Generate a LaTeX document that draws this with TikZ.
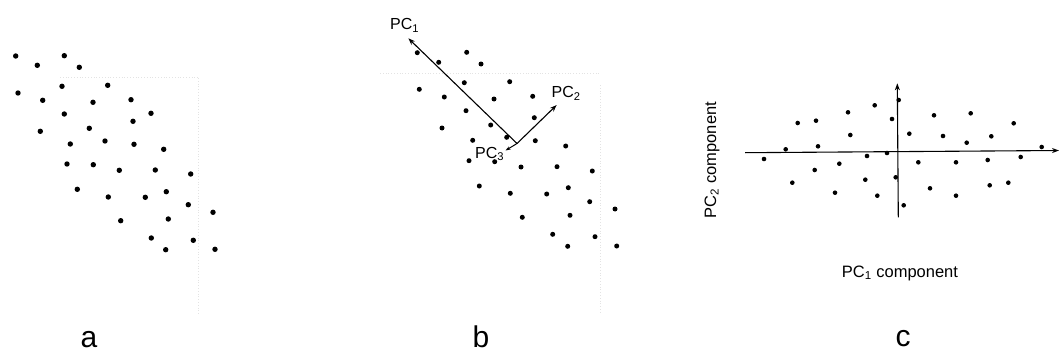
\documentclass[tikz,border=0pt]{standalone}
\usepackage{fontspec}
\setmainfont{Liberation Sans}
\usetikzlibrary{arrows.meta}
\begin{document}
\begin{tikzpicture}[x=1pt,y=-1pt,
  dotmark/.style={fill=black},
  axis/.style={line width=1.1pt,-{Stealth[length=7pt,width=5pt]}},
  faint/.style={gray!22,line width=0.5pt,dash pattern=on 0.8pt off 2pt},
  pclabel/.style={inner sep=0pt,anchor=base west,font=\fontsize{16}{16}\selectfont},
  complabel/.style={inner sep=0pt,font=\fontsize{16.5}{16.5}\selectfont},
  panellabel/.style={inner sep=0pt,anchor=base,font=\fontsize{30}{30}\selectfont}]
\useasboundingbox (0,0) rectangle (1059,353);
% faint scan lines
\draw[faint] (198,78) -- (198,315);
\draw[faint] (60,77) -- (198,77);
\draw[faint] (600,85) -- (600,313);
\draw[faint] (380,73) -- (600,73);
% panel a dots
\foreach \x/\y in {15.7/56,64.3/55.7,37.3/65.3,79.3/67.3,62/86.3,107.7/85.3,18/93,42.7/100.3,93/102.3,131/99.7,64.3/114,151/113.3,133/121.3,40.3/131.3,89.3/128.3,70.3/144,105/141,134/144.3,163.7/149.3,67/164,93.3/164.7,119.3/170.3,155.3/170,190.7/174,77.3/189.3,108.3/197,145.3/197.3,166.3/191.7,188.3/204.7,213/212.3,120.7/220.7,168.3/219,151.3/238,193.3/240.3,165.7/249.7,215/249.3}
  \fill[dotmark] (\x,\y) circle (2.7pt);
% panel b dots
\foreach \x/\y in {417.3/52.7,466.7/52.3,438.7/62.3,481/64,419.3/89.3,464.3/82.7,509.7/81.7,444.3/97,494/99,532.7/96.3,466/110.7,534.3/117.7,442/128,490.7/125,506.7/137.3,472.7/140.3,535.3/140.7,565.7/146,469/160.7,494.7/161.7,521/167,557/166.7,592.3/171,479.3/186,510.3/193.3,546.7/194,568.3/187.7,589.7/201.7,615/209,522.3/217.3,570/215.3,552.7/234.3,595/236.7,567.7/246.3,616.7/246}
  \fill[dotmark] (\x,\y) circle (2.5pt);
% panel b axes
\coordinate (O) at (517,143.5);
\coordinate (pc1tip) at (408.3,38.3);
\coordinate (pc2tip) at (556.7,105);
\coordinate (pc3tip) at (505.5,150.5);
\draw[axis] (O) -- (pc1tip);
\draw[axis] (O) -- (pc2tip);
\draw[line width=1pt,-{Stealth[length=5pt,width=3.5pt]}] (O) -- (pc3tip);
\node[pclabel] (pc1) at (390,29.5) {PC\textsubscript{1}};
\node[pclabel] (pc2) at (551.5,97.5) {PC\textsubscript{2}};
\node[pclabel] (pc3) at (475,158) {PC\textsubscript{3}};
% panel c dots
\foreach \x/\y in {764/159,785.7/149.3,797.7/123,816/120.7,818/146.3,792.3/182.7,814.7/170,839.3/163.7,835/192.7,848/112.3,850.3/135,874.7/105.3,892/119,898.7/100,867/156,887/153,865.3/179.7,877.3/195.7,895.7/177.3,903.7/205.3,909.3/133.7,918.3/162.3,934/115.3,943/136,930/188.3,956/162.3,956/195.7,970.7/113.3,966.7/142.7,991.3/136.3,987.7/160,989.7/185.3,1008.3/182.7,1013.7/123.3,1020.7/157,1041.7/147}
  \fill[dotmark] (\x,\y) circle (2.3pt);
% panel c axes
\coordinate (hL) at (745,152.7);
\coordinate (hR) at (1059,150.5);
\coordinate (vB) at (898.3,217.3);
\coordinate (vT) at (897.3,83.3);
\draw[axis] (hL) -- (hR);
\draw[axis] (vB) -- (vT);
\node[complabel,anchor=base west] (c1) at (841.7,277.3) {PC\textsubscript{1} component};
\node[complabel,anchor=base,rotate=90] (c2) at (716,160) {PC\textsubscript{2} component};
% panel labels
\node[panellabel] (la) at (89,347.5) {a};
\node[panellabel] (lb) at (481,347.5) {b};
\node[panellabel] (lc) at (903,346.5) {c};
\end{tikzpicture}
\end{document}
